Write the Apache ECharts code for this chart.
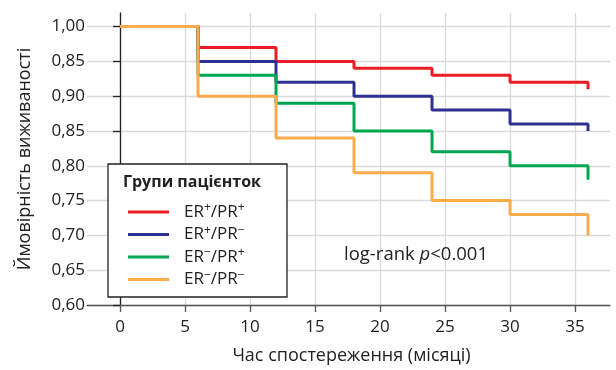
<!DOCTYPE html>
<html><head><meta charset="utf-8">
<script src="https://cdn.jsdelivr.net/npm/echarts@6/dist/echarts.min.js"></script>
<style>html,body{margin:0;padding:0;background:#fff}#c{width:616px;height:370px}</style>
</head><body><div id="c"></div>
<script>
const months = [0, 6, 12, 18, 24, 30, 36, 36];
const erPosPrPos = [1.00, 0.97, 0.95, 0.94, 0.93, 0.92, 0.92, 0.91];
const erPosPrNeg = [1.00, 0.95, 0.92, 0.90, 0.88, 0.86, 0.86, 0.85];
const erNegPrPos = [1.00, 0.93, 0.89, 0.85, 0.82, 0.80, 0.80, 0.78];
const erNegPrNeg = [1.00, 0.90, 0.84, 0.79, 0.75, 0.73, 0.73, 0.70];
const seriesNames = ['ER+/PR+', 'ER+/PR−', 'ER−/PR+', 'ER−/PR−'];
const seriesColors = ['#ed1c24', '#2e3192', '#00a651', '#fbab4c'];
const xTicks = [0, 5, 10, 15, 20, 25, 30, 35];
const yTicks = [0.60, 0.65, 0.70, 0.75, 0.80, 0.85, 0.90, 0.95, 1.00];
const yTickLabels = ['0,60', '0,65', '0,70', '0,75', '0,80', '0,85', '0,90', '0,85', '1,00'];
const legendTitle = 'Групи пацієнток';
const xName = 'Час спостереження (місяці)';
const yName = 'Ймовірність виживаності';

const FONT = '"Open Sans", sans-serif';
const seriesData = [erPosPrPos, erPosPrNeg, erNegPrPos, erNegPrNeg];

const chart = echarts.init(document.getElementById('c'), null, {renderer: 'canvas'});
chart.setOption({
  animation: false,
  backgroundColor: '#fff',
  grid: {left: 87, top: 13, width: 523, height: 294.5},
  xAxis: {
    type: 'value', min: -2.538, max: 37.69,
    axisLine: {show: true, lineStyle: {color: '#555', width: 1.3}},
    axisTick: {show: true, length: 7, customValues: xTicks, lineStyle: {color: '#555', width: 1.3}},
    axisLabel: {customValues: xTicks, fontSize: 17, fontFamily: FONT, color: '#222', margin: 14},
    splitLine: {show: true, lineStyle: {color: '#dadada', width: 1.3}},
    name: xName, nameLocation: 'middle', nameGap: 42,
    nameTextStyle: {fontSize: 18, fontFamily: FONT, color: '#222', padding: [0, 0, 0, 6]}
  },
  yAxis: {
    type: 'value', min: 0.6, max: 1.0195, offset: -9,
    axisLine: {show: true, lineStyle: {color: '#222', width: 1.3}},
    axisTick: {show: true, length: 7, customValues: yTicks, lineStyle: {color: '#222', width: 1.3}},
    axisLabel: {
      customValues: yTicks, fontSize: 17, fontFamily: FONT, color: '#222', margin: 11,
      formatter: function (v) {
        for (let i = 0; i < yTicks.length; i++) if (Math.abs(yTicks[i] - v) < 1e-6) return yTickLabels[i];
        return '';
      }
    },
    splitLine: {show: true, lineStyle: {color: '#dadada', width: 1.3}},
    name: yName, nameLocation: 'middle', nameGap: 62,
    nameTextStyle: {fontSize: 18, fontFamily: FONT, color: '#222'}
  },
  legend: {
    orient: 'vertical', left: 123, top: 197,
    itemWidth: 41, itemHeight: 3, itemGap: 2.5, icon: 'rect',
    data: seriesNames,
    formatter: function (name) {
      return '{g| }' + name.replace(/[+−]/g, m => '{s|' + m + '}');
    },
    textStyle: {
      fontSize: 17, fontFamily: FONT, color: '#222', lineHeight: 20,
      rich: {
        g: {width: 10},
        s: {fontSize: 12, fontFamily: FONT, color: '#222', verticalAlign: 'top', lineHeight: 12}
      }
    },
    z: 5
  },
  graphic: {elements: [
    {type: 'rect', z: 4, shape: {x: 108, y: 164, width: 179, height: 133},
     style: {fill: '#fff', stroke: '#222', lineWidth: 1.3}},
    {type: 'text', z: 5, x: 123, y: 182,
     style: {text: legendTitle, fontSize: 16, fontWeight: 'bold', fontFamily: FONT, fill: '#222', verticalAlign: 'middle'}},
    {type: 'text', z: 5, x: 416, y: 255,
     style: {text: 'log-rank {i|p}<0.001', fontSize: 18.5, fontFamily: FONT, fill: '#222', align: 'center', verticalAlign: 'middle',
       rich: {i: {fontStyle: 'italic', fontSize: 18.5, fontFamily: FONT, fill: '#222'}}}}
  ]},
  series: seriesNames.map((n, k) => ({
    name: n, type: 'line', step: 'end', symbol: 'none', showSymbol: false,
    color: seriesColors[k],
    lineStyle: {width: 3, color: seriesColors[k]},
    data: months.map((m, i) => [m, seriesData[k][i]])
  }))
});
</script></body></html>
